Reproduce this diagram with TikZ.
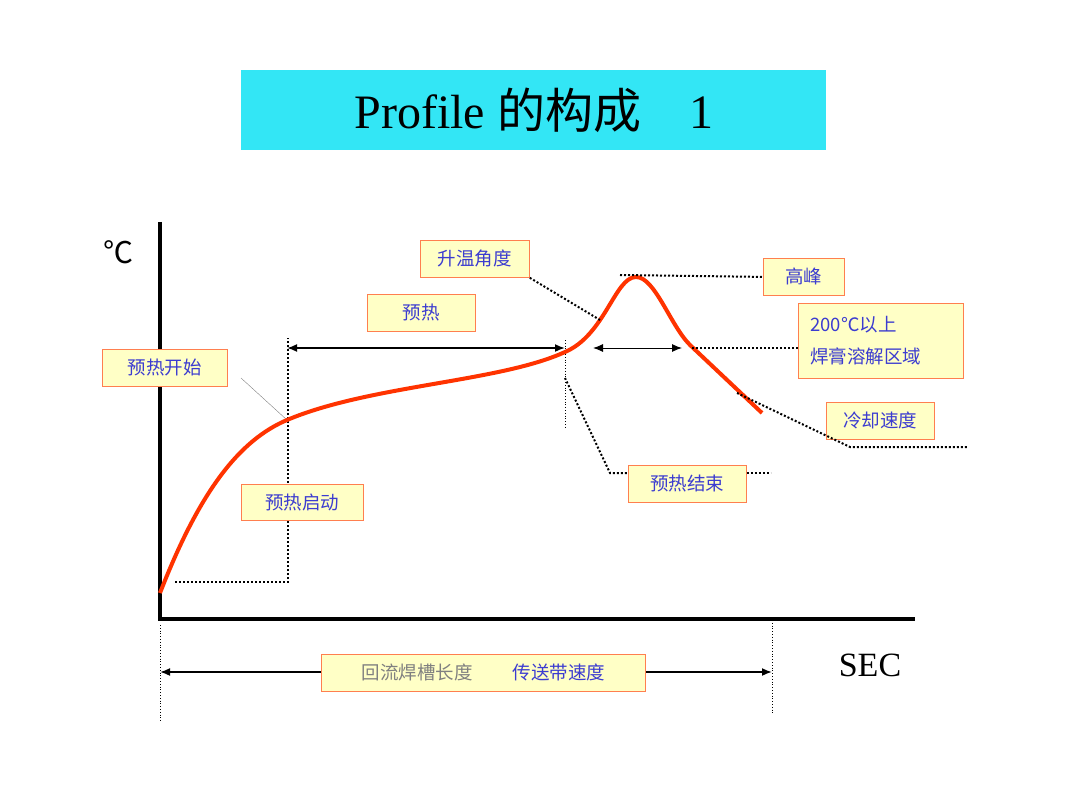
\documentclass[tikz,border=0pt]{standalone}
\usepackage{fontspec}
\setmainfont{Liberation Serif}
\newfontfamily\cjk{Noto Sans CJK SC}
\usetikzlibrary{arrows.meta}
\definecolor{boxfill}{HTML}{FFFFC6}
\definecolor{boxdraw}{HTML}{FF7F4F}
\definecolor{txtblue}{HTML}{3C3CD0}
\definecolor{titlecyan}{HTML}{33E6F5}
\definecolor{curvered}{HTML}{FF3300}
\begin{document}
\begin{tikzpicture}[x=1pt,y=-1pt,
  lbl/.style={draw=boxdraw,fill=boxfill,line width=0.8pt,font=\cjk\fontsize{18.5}{22}\selectfont,text=txtblue,inner sep=0pt,anchor=north west},
  dots/.style={dotted,line width=2pt},
  thindots/.style={dotted,line width=0.8pt},
  dim/.style={line width=1.7pt,{Latex[length=10pt,width=8pt]}-{Latex[length=10pt,width=8pt]}}]
\useasboundingbox (0,0) rectangle (1077,805);
\node[fill=titlecyan,minimum width=585pt,minimum height=80pt,anchor=north west,inner sep=0pt,font=\fontsize{48}{54}\selectfont] (title) at (241,70) {Profile {\cjk 的构成}\quad 1};
% axes
\draw[line width=4pt] (160,222) coordinate (ytop) -- (160,619) coordinate (orig) -- (915,619) coordinate (xend);
\node[font=\cjk\fontsize{30}{34}\selectfont] (degc) at (118,252) {℃};
\node[font=\fontsize{34}{38}\selectfont] (sec) at (870,665) {SEC};
% helper coordinates
\coordinate (a1) at (175,582); \coordinate (a2) at (288,582); \coordinate (a3) at (288,338);
\coordinate (p1) at (287,348); \coordinate (p2) at (565,348);
\coordinate (v1) at (565,340); \coordinate (v2) at (565,428);
\coordinate (q1) at (593,348); \coordinate (q2) at (682,348); \coordinate (q3) at (692,348);
\coordinate (c1) at (737,393); \coordinate (c2) at (850,447); \coordinate (c3) at (968,447);
\coordinate (e1) at (565,378); \coordinate (e2) at (610,473);
\coordinate (h1) at (620,275);
\coordinate (s1) at (600,320);
\coordinate (t1) at (241,378); \coordinate (t2) at (287,420);
\coordinate (b1) at (160,625); \coordinate (b2) at (160,722);
\coordinate (b3) at (772,620); \coordinate (b4) at (772,715);
\coordinate (b5) at (160,672); \coordinate (b6) at (772,672);
% dotted guides
\draw[dots] (a1) -- (a2) -- (a3);
\draw[thindots] (v1) -- (v2);
\draw[line width=0.4pt,gray] (t1) -- (t2);
\draw[thindots] (b1) -- (b2);
\draw[thindots] (b3) -- (b4);
\draw[dim] (p1) -- (p2);
\draw[dim,line width=1pt] (q1) -- (q2);
\draw[dim] (b5) -- (b6);
% curve
\draw[curvered,line width=4pt] (160,593) .. controls (200,490) and (240,440) .. (287,420)
  .. controls (370,385) and (500,382) .. (565,352)
  .. controls (605,335) and (615,277) .. (636,277)
  .. controls (655,277) and (670,325) .. (690,345) -- (762,413);
% labels
\node[lbl,minimum width=109pt,minimum height=37pt] (shengwen) at (420,240) {升温角度};
\node[lbl,minimum width=108pt,minimum height=37pt] (yure) at (367,294) {预热};
\node[lbl,minimum width=125pt,minimum height=37pt] (yks) at (102,349) {预热开始};
\node[lbl,minimum width=122pt,minimum height=36pt] (yqd) at (241,484) {预热启动};
\node[lbl,minimum width=81pt,minimum height=37pt] (gaofeng) at (763,258) {高峰};
\node[lbl,minimum width=165pt,minimum height=75pt,align=left,text width=165pt,inner sep=0pt] (rong) at (798,303) {\hspace*{12pt}200℃以上\\[10pt]\hspace*{12pt}焊膏溶解区域};
\node[lbl,minimum width=108pt,minimum height=37pt] (lengque) at (826,402) {冷却速度};
\node[lbl,minimum width=118pt,minimum height=37pt] (yjs) at (628,465) {预热结束};
\node[lbl,minimum width=324pt,minimum height=37pt] (bottom) at (321,654) {\textcolor{gray}{回流焊槽长度}\hspace{40pt}传送带速度};
% leader lines
\draw[dots] (shengwen.south east) -- (s1);
\draw[dots] (h1) -- (gaofeng.west);
\draw[dots] (q3) -- (rong.west |- q3);
\draw[dots] (c1) -- (c2) -- (c3);
\draw[dots] (e1) -- (e2) -- (yjs.west |- e2);
\draw[dots] (yjs.east |- e2) -- ++(24,0) coordinate (e3);
\end{tikzpicture}
\end{document}
